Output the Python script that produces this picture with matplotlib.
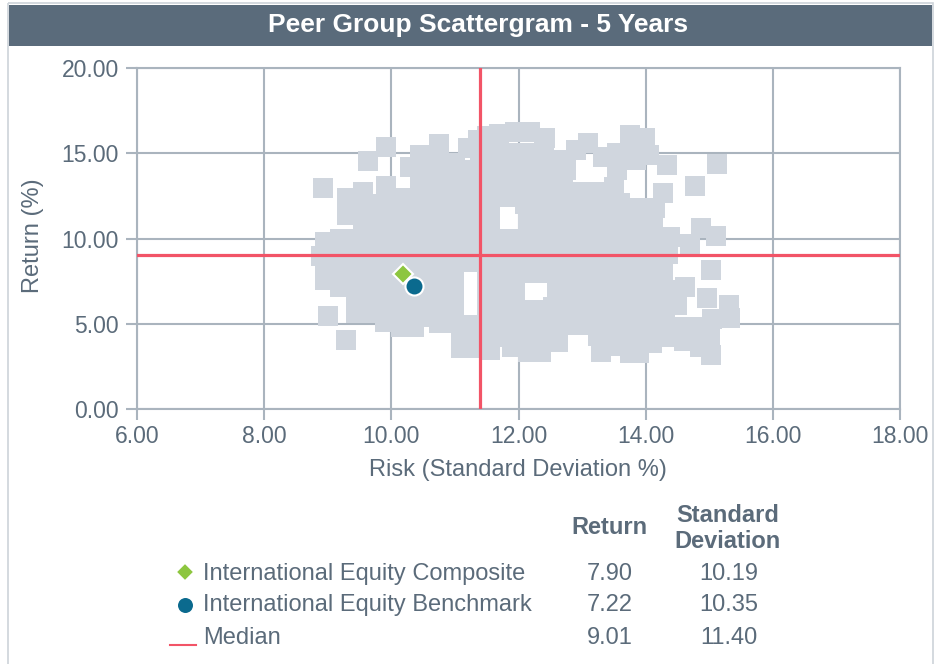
import matplotlib
matplotlib.use('Agg')
import matplotlib.pyplot as plt
from matplotlib.patches import Rectangle
from matplotlib.lines import Line2D

plt.rcParams['font.family'] = ['Liberation Sans', 'DejaVu Sans']

# --- data ---
title = 'Peer Group Scattergram - 5 Years'
x_ticks = [6, 8, 10, 12, 14, 16, 18]
y_ticks = [0, 5, 10, 15, 20]

# peer group (risk, return), read roughly row by row from the cloud
peer_points = [
    # top edge / loose squares
    (8.93, 12.96), (9.63, 14.55), (9.92, 15.37), (9.92, 13.1), (10.45, 14.9),
    (10.75, 15.54), (11.0, 14.4), (11.2, 15.3), (11.36, 15.8), (11.5, 16.0),
    (11.7, 16.1), (11.95, 16.25), (12.18, 16.25), (12.42, 15.9), (12.65, 14.6),
    (12.9, 15.2), (13.1, 15.6), (13.33, 14.8), (13.55, 15.0), (13.75, 16.07),
    (13.99, 15.9), (14.34, 14.3), (15.12, 14.37), (14.78, 13.08), (14.27, 12.67),
    (14.15, 11.8),
    # ~15
    (11.4, 15.0), (11.65, 15.1), (11.9, 15.0), (12.15, 15.0), (12.4, 15.1),
    (13.8, 15.0), (14.05, 14.9), (10.7, 14.6),
    # ~14
    (10.3, 14.2), (10.55, 14.0), (10.8, 14.1), (11.05, 13.9), (11.3, 14.0),
    (11.55, 14.0), (11.8, 14.1), (12.05, 14.0), (12.3, 14.0), (12.55, 13.9),
    (12.75, 14.0), (13.55, 14.0), (13.85, 14.6),
    # ~13
    (9.3, 12.4), (9.55, 12.7), (10.2, 12.4), (10.45, 13.0), (10.7, 13.0),
    (10.95, 13.0), (11.2, 13.0), (11.45, 13.0), (11.7, 13.0), (11.95, 12.9),
    (12.2, 13.0), (12.45, 13.0), (12.7, 13.0), (12.95, 12.7), (13.2, 12.7),
    (13.5, 13.0),
    # ~12
    (9.3, 11.4), (9.55, 11.9), (9.8, 12.0), (10.05, 12.0), (10.3, 12.0),
    (10.55, 12.0), (10.8, 12.0), (11.05, 12.0), (11.3, 12.0), (11.55, 12.0),
    (11.85, 12.45), (12.1, 12.0), (12.35, 12.0), (12.6, 12.0), (12.85, 12.0),
    (13.1, 11.9), (13.35, 12.0), (13.6, 12.1), (13.85, 11.8),
    # ~11
    (9.55, 11.0), (9.8, 11.0), (10.05, 11.0), (10.3, 11.0), (10.55, 11.0),
    (10.8, 11.0), (11.05, 11.0), (11.3, 11.0), (11.55, 11.0), (12.15, 11.0),
    (12.4, 11.0), (12.65, 11.0), (12.9, 11.0), (13.15, 11.0), (13.4, 11.0),
    (13.65, 11.0), (13.9, 11.0), (14.12, 10.8),
    # ~10
    (8.95, 9.8), (9.2, 10.0), (9.45, 10.0), (9.7, 10.0), (9.95, 10.0),
    (10.2, 10.0), (10.45, 10.0), (10.7, 10.0), (10.95, 10.0), (11.2, 10.0),
    (11.45, 10.0), (11.7, 10.0), (11.95, 10.0), (12.2, 10.0), (12.45, 10.0),
    (12.7, 10.0), (12.95, 10.0), (13.2, 10.0), (13.45, 10.0), (13.7, 10.0),
    (13.95, 10.0), (14.15, 10.0), (14.38, 10.1), (14.7, 9.7), (14.87, 10.6),
    (15.1, 10.15),
    # ~9
    (8.9, 9.0), (9.15, 9.0), (9.4, 9.0), (9.65, 9.0), (9.9, 9.0),
    (10.15, 9.0), (10.4, 9.0), (10.65, 9.0), (10.9, 9.0), (11.15, 9.0),
    (11.4, 9.0), (11.65, 9.0), (11.9, 9.0), (12.15, 9.0), (12.4, 9.0),
    (12.65, 9.0), (12.9, 9.0), (13.15, 9.0), (13.4, 9.0), (13.65, 9.0),
    (13.9, 9.0), (14.15, 8.9), (14.35, 9.1), (11.25, 8.6),
    # ~8
    (8.95, 8.15), (9.2, 8.0), (9.45, 8.0), (9.7, 8.0), (9.95, 8.0),
    (10.2, 8.0), (10.45, 8.0), (10.7, 8.0), (10.98, 8.0), (11.5, 8.0),
    (11.75, 8.0), (12.0, 8.0), (12.25, 8.0), (12.5, 8.0), (12.75, 8.0),
    (13.0, 8.0), (13.25, 8.0), (13.5, 8.0), (13.75, 8.0), (14.0, 8.0),
    (14.28, 8.0), (15.03, 8.15),
    # ~7
    (8.95, 7.57), (9.2, 7.15), (9.45, 7.0), (9.7, 7.0), (9.95, 7.0),
    (10.2, 7.0), (10.45, 7.0), (10.7, 7.0), (10.98, 7.0), (11.5, 7.0),
    (11.75, 7.0), (11.95, 7.0), (12.6, 7.0), (12.85, 7.0), (13.1, 7.0),
    (13.35, 7.0), (13.6, 7.0), (13.85, 7.0), (14.1, 7.0), (14.35, 7.0),
    (14.62, 7.16), (14.96, 6.5),
    # ~6
    (9.45, 6.0), (9.7, 6.0), (9.95, 6.0), (10.2, 6.0), (10.45, 6.0),
    (10.7, 6.0), (10.98, 6.0), (11.5, 6.0), (11.75, 6.0), (12.0, 5.8),
    (12.25, 5.8), (12.55, 6.0), (12.8, 6.0), (13.05, 6.0), (13.3, 6.0),
    (13.55, 6.0), (13.8, 6.0), (14.05, 6.0), (14.3, 6.0), (14.5, 6.1),
    (15.31, 6.1), (15.33, 5.34),
    # ~5
    (9.0, 5.45), (9.45, 5.63), (9.65, 5.63), (9.9, 5.1), (10.15, 4.8),
    (10.35, 4.8), (10.55, 5.4), (10.75, 5.04), (10.98, 5.04), (11.25, 4.9),
    (11.5, 5.0), (11.75, 5.0), (12.0, 5.0), (12.25, 5.0), (12.5, 5.0),
    (12.8, 4.93), (13.05, 4.93), (13.3, 5.0), (13.55, 5.0), (13.8, 5.0),
    (14.05, 5.0), (14.3, 5.0), (14.54, 4.8), (14.8, 4.8), (15.05, 5.3),
    (15.01, 4.22),
    # bottom edge
    (9.29, 4.05), (11.1, 3.58), (11.3, 3.6), (11.55, 3.46), (11.8, 4.2),
    (11.9, 3.64), (12.15, 3.34), (12.35, 3.34), (12.5, 3.93), (12.62, 3.93),
    (13.3, 3.34), (13.5, 3.7), (13.75, 3.28), (13.9, 3.28), (14.1, 3.87),
    (14.4, 4.2), (14.86, 3.63), (15.03, 3.17),
    (11.1, 4.4), (11.35, 4.3), (11.6, 4.3), (12.1, 4.3), (12.35, 4.3),
    (13.25, 4.3), (13.5, 4.2), (13.75, 4.2), (14.0, 4.3), (14.25, 4.3),
    (14.6, 4.0),
]
peer_risk = [p[0] for p in peer_points]
peer_return = [p[1] for p in peer_points]

series_names = ['International Equity Composite', 'International Equity Benchmark', 'Median']
series_return = [7.90, 7.22, 9.01]
series_std = [10.19, 10.35, 11.40]

# --- colours ---
TEXT = '#5b6b7a'
GRID = '#aab4be'
PEER = '#d0d6de'
HEADER = '#5a6b7b'
RED = '#f25467'
GREEN = '#8dc63f'
BLUE = '#0b6a8e'

W, H = 938, 664
fig = plt.figure(figsize=(W / 100, H / 100), dpi=100)

# overlay in pixel coordinates for header, labels and the table
lay = fig.add_axes([0, 0, 1, 1])
lay.set_xlim(0, W)
lay.set_ylim(H, 0)
lay.axis('off')

lay.add_patch(Rectangle((8, 3), 925, 700, fill=False, edgecolor='#cdd3d9', lw=1.2))
lay.add_patch(Rectangle((9, 5), 923, 41, facecolor=HEADER, edgecolor='none'))
lay.text(478, 25, title, color='white', fontsize=19, fontweight='bold',
         ha='center', va='center')

lay.text(518, 470, 'Risk (Standard Deviation %)', color=TEXT, fontsize=17,
         ha='center', va='center')
lay.text(33, 236, 'Return (%)', color=TEXT, fontsize=17, rotation=90,
         ha='center', va='center')

# table under the chart
lay.text(609, 527, 'Return', color=TEXT, fontsize=17, fontweight='bold',
         ha='center', va='center')
lay.text(728, 515, 'Standard', color=TEXT, fontsize=17, fontweight='bold',
         ha='center', va='center')
lay.text(728, 541, 'Deviation', color=TEXT, fontsize=17, fontweight='bold',
         ha='center', va='center')
row_y = [574, 605, 638]
for name, ret, sd, yy in zip(series_names, series_return, series_std, row_y):
    lay.text(203, yy, name, color=TEXT, fontsize=17, ha='left', va='center')
    lay.text(610, yy, f'{ret:.2f}', color=TEXT, fontsize=17, ha='center', va='center')
    lay.text(729, yy, f'{sd:.2f}', color=TEXT, fontsize=17, ha='center', va='center')
lay.plot([185], [572], marker='D', ms=9, mfc=GREEN, mec='white', mew=1.2)
lay.plot([185], [605], marker='o', ms=12, mfc=BLUE, mec='white', mew=1.2)
lay.add_line(Line2D([170, 196], [645, 645], color=RED, lw=1.5))

# main scatter axes
ax = fig.add_axes([137 / W, (H - 409) / H, 763 / W, 341 / H])
ax.set_xlim(6, 18)
ax.set_ylim(0, 20)
ax.set_xticks(x_ticks)
ax.set_yticks(y_ticks)
ax.set_xticklabels([f'{v:.2f}' for v in x_ticks])
ax.set_yticklabels([f'{v:.2f}' for v in y_ticks])
ax.set_axisbelow(True)
ax.grid(True, color=GRID, lw=1.5)
for sp in ax.spines.values():
    sp.set_color(GRID)
    sp.set_linewidth(1.5)
ax.tick_params(axis='both', colors=GRID, labelcolor=TEXT, labelsize=16.5,
               length=8, width=1.5)
ax.tick_params(axis='x', pad=3.5)
ax.tick_params(axis='y', pad=5)

ax.scatter(peer_risk, peer_return, marker='s', s=14.4 ** 2, color=PEER,
           linewidths=0, zorder=2)

ax.axhline(series_return[2], color=RED, lw=2.3, zorder=3)
ax.axvline(series_std[2], color=RED, lw=2.3, zorder=3)

ax.plot(series_std[0], series_return[0], marker='D', ms=10, mfc=GREEN,
        mec='white', mew=1.5, zorder=5)
ax.plot(series_std[1], series_return[1], marker='o', ms=13, mfc=BLUE,
        mec='white', mew=1.5, zorder=6)

fig.savefig('out.png', dpi=100)
